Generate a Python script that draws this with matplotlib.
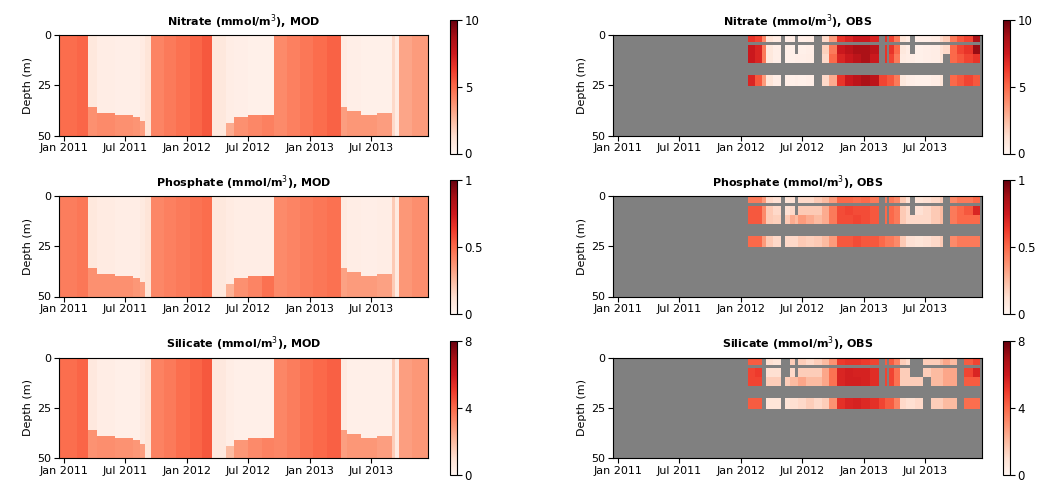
import numpy as np
import matplotlib
matplotlib.use("Agg")
import matplotlib.pyplot as plt
import matplotlib.dates as mdates

nan = np.nan

# ---- model: time segments, mixed-layer depth and surface / deep values ----
mod_start = ['2010-12-17', '2011-02-10', '2011-03-13', '2011-04-10', '2011-06-01',
             '2011-07-25', '2011-08-15', '2011-08-29', '2011-09-18', '2011-10-25',
             '2011-12-01', '2012-01-10', '2012-02-15', '2012-03-17', '2012-04-27',
             '2012-05-20', '2012-07-01', '2012-08-10', '2012-09-17', '2012-10-25',
             '2012-12-01', '2013-01-10', '2013-02-20', '2013-04-02', '2013-04-20',
             '2013-06-01', '2013-07-20', '2013-09-02', '2013-09-10', '2013-09-22',
             '2013-11-01']
mod_end = '2013-12-17'
mod_mld = [50, 50, 36, 39, 40, 41, 43, 50, 50, 50,
           50, 50, 50, 50, 44, 41, 40, 40, 50, 50,
           50, 50, 50, 36, 38, 40, 39, 50, 50, 50,
           50]

no3_surf = [4.9, 5.1, 0.8, 0.5, 0.4, 0.4, 0.6, 1.0, 4.2, 4.5,
            4.8, 5.1, 5.5, 0.8, 0.5, 0.4, 0.3, 0.3, 4.0, 4.3,
            4.6, 4.9, 5.2, 0.6, 0.4, 0.3, 0.3, 1.5, 0.6, 3.2,
            3.5]
no3_deep = [nan, nan, 3.8, 4.0, 3.8, 3.7, 3.4, nan, nan, nan,
            nan, nan, nan, nan, 3.0, 3.8, 4.1, 4.3, nan, nan,
            nan, nan, nan, 3.4, 3.6, 3.6, 3.4, nan, nan, nan,
            nan]
po4_surf = [0.44, 0.46, 0.08, 0.06, 0.05, 0.05, 0.07, 0.10, 0.41, 0.43,
            0.45, 0.47, 0.49, 0.08, 0.06, 0.05, 0.05, 0.05, 0.40, 0.42,
            0.44, 0.46, 0.48, 0.07, 0.05, 0.04, 0.05, 0.20, 0.07, 0.36,
            0.39]
po4_deep = [nan, nan, 0.38, 0.38, 0.38, 0.36, 0.34, nan, nan, nan,
            nan, nan, nan, nan, 0.28, 0.38, 0.42, 0.48, nan, nan,
            nan, nan, nan, 0.33, 0.35, 0.35, 0.33, nan, nan, nan,
            nan]
si_surf = [3.9, 4.1, 0.6, 0.4, 0.3, 0.3, 0.5, 0.8, 3.4, 3.6,
           3.9, 4.1, 4.4, 0.6, 0.4, 0.3, 0.3, 0.3, 3.3, 3.5,
           3.8, 4.0, 4.2, 0.5, 0.3, 0.3, 0.3, 1.5, 0.5, 2.7,
           2.9]
si_deep = [nan, nan, 3.0, 3.1, 3.0, 2.9, 2.7, nan, nan, nan,
           nan, nan, nan, nan, 2.0, 2.9, 3.2, 3.4, nan, nan,
           nan, nan, nan, 2.7, 2.9, 2.9, 2.7, nan, nan, nan,
           nan]

# ---- observations: sampling periods and depth rows ----
obs_edges = ['2012-01-24', '2012-02-11', '2012-03-03', '2012-03-17', '2012-04-07',
             '2012-05-01', '2012-05-10', '2012-05-25', '2012-06-09', '2012-06-18',
             '2012-07-12', '2012-08-05', '2012-08-29', '2012-09-18', '2012-10-12',
             '2012-11-05', '2012-11-29', '2012-12-23', '2013-01-19', '2013-02-15',
             '2013-03-05', '2013-03-11', '2013-03-16', '2013-03-31', '2013-04-18',
             '2013-05-06', '2013-05-18', '2013-06-02', '2013-06-26', '2013-07-20',
             '2013-08-13', '2013-08-22', '2013-09-14', '2013-10-05', '2013-10-26',
             '2013-11-19', '2013-12-10']
obs_depth = [0, 3.5, 5, 9.5, 14, 20, 25.5, 50]

no3_obs = [
    [6.5, 6, 4, 1.0, 0.6, nan, 0.4, 0.5, nan, 0.4, 0.5, nan, 1.5, 3.5, 6.5, 7, 7.5, 7.5,
     7, nan, 6.5, nan, 6, 4.5, 1.0, 0.6, nan, 0.4, 0.4, 0.6, 1.5, 2, 4.5, 5.5, 6, 8.5],
    [7.5, 7, 4.5, 0.8, 0.4, nan, 0.3, 0.3, nan, 0.3, 0.4, nan, 1.8, 4.5, 7.5, 8, 8.5, 8.5,
     8, nan, 6.5, nan, 6.5, 5, 0.8, 0.5, nan, 0.3, 0.4, 0.5, 1.2, 1.5, 5, 6, 6.5, 9],
    [7.5, 7, 4.5, 0.8, 0.4, nan, 0.3, 0.3, 0.4, 0.4, 0.5, nan, 1.5, 5, 7, 7.5, 8, 8.5,
     7.5, nan, 6.5, nan, 6, 4.5, 0.6, 0.5, 0.5, 0.3, 0.4, 0.5, 1.0, nan, 5, 5.5, 6, 6.5],
    [7, 5.5, 3.5, 1.0, 0.5, nan, 0.4, 0.3, 0.4, 0.3, 0.4, nan, 1.5, 3, 6.5, 7.5, 8, 8.5,
     8, 6, 6, 5.5, 5.5, 4.5, 0.8, 0.5, 0.4, 0.3, 0.3, 0.5, 1.0, nan, 5, 5.5, 6, 5.5],
]
po4_obs = [
    [.45, .45, .35, .15, .12, nan, .10, .12, nan, .15, .15, .20, .25, .35, .50, .50, .48, .50,
     .45, nan, .45, nan, .45, .40, .20, .12, nan, .10, .12, .15, .20, nan, .40, .45, .45, .50],
    [.55, .55, .40, .20, .15, nan, .12, .15, nan, .20, .20, .20, .30, .45, .58, .60, .58, .58,
     .55, nan, .50, nan, .50, .45, .20, .15, nan, .12, .15, .20, .25, nan, .45, .50, .55, .70],
    [.55, .55, .40, .20, .18, nan, .20, .30, .25, .35, .30, .25, .30, .45, .58, .58, .60, .58,
     .55, nan, .50, nan, .50, .45, .20, .15, .15, .15, .15, .20, .25, nan, .45, .50, .50, .50],
    [.50, .50, .35, .20, .15, nan, .15, .15, .15, .20, .18, .20, .25, .35, .55, .55, .58, .55,
     .55, .50, .45, .45, .45, .40, .20, .12, .12, .10, .12, .15, .20, nan, .40, .45, .45, .45],
]
si_obs = [
    [4.3, 4.3, nan, 1.0, 0.8, nan, nan, 1.5, nan, 1.5, 1.2, 1.5, 2.0, 3.0, 5.0, 5.2, 5.2, 5.0,
     4.8, nan, 4.3, nan, 4.3, 3.4, 1.5, 1.2, nan, nan, 1.5, 1.5, 2.0, 2.5, 2.0, nan, 4.3, 4.8],
    [4.8, 5.0, nan, 1.0, 1.0, nan, nan, 1.2, nan, 1.5, 1.5, 1.5, 2.5, 3.8, 5.6, 5.8, 5.7, 5.7,
     5.4, nan, 4.8, nan, 4.8, 3.8, 1.5, 1.5, nan, nan, 1.5, 2.0, 2.0, 2.5, 2.5, nan, 4.8, 5.6],
    [4.8, 4.8, nan, 1.5, 1.5, nan, 1.5, 2.0, 2.0, 2.5, 2.0, 2.0, 2.5, 3.8, 5.6, 5.8, 5.8, 5.7,
     5.4, nan, 4.8, nan, 4.8, 3.8, 1.5, 1.5, 1.5, 1.5, nan, 2.0, 2.0, 2.5, 2.5, nan, 4.3, 4.3],
    [4.3, 4.3, nan, 0.8, 0.8, nan, 0.8, 1.0, 1.0, 1.2, 1.5, 1.2, 1.5, 3.0, 5.3, 5.6, 5.7, 5.5,
     5.3, 4.8, 4.3, 4.3, 4.3, 3.4, 1.2, 1.0, 1.0, 1.2, nan, 1.5, 1.5, 2.0, 2.0, nan, 3.9, 3.9],
]
# thin surface silicate record before 2012
si_surf_edges = ['2010-12-17', '2011-02-24', '2011-03-05', '2011-04-15', '2011-05-15',
                 '2011-09-21', '2011-11-10', '2012-01-24']
si_surf_obs = [0.8, nan, 0.3, 0.5, 0.6, 6.0, 1.0]
si_surf_depth = [0, 0.9]

titles = ['Nitrate', 'Phosphate', 'Silicate']
vmax = [10, 1, 8]
cb_ticks = [[0, 5, 10], [0, 0.5, 1], [0, 4, 8]]
cb_labels = [['0', '5', '10'], ['0', '0.5', '1'], ['0', '4', '8']]
xlim = ['2010-12-18', '2013-12-17']


def dnum(lst):
    return mdates.date2num(np.array(lst, dtype='datetime64[D]'))


z_edges = np.arange(0, 50.5, 0.5)
z_mid = 0.5 * (z_edges[1:] + z_edges[:-1])
mod_t = dnum(mod_start + [mod_end])


def model_grid(surf, deep):
    surf = np.array(surf)
    deep = np.array(deep)
    mld = np.array(mod_mld)
    return np.where(z_mid[:, None] < mld[None, :], surf[None, :], deep[None, :])


def obs_grid(rows):
    gap = [nan] * len(rows[0])
    return np.ma.masked_invalid(np.array([rows[0], gap, rows[1], rows[2], gap, rows[3], gap]))


mod_data = [model_grid(no3_surf, no3_deep), model_grid(po4_surf, po4_deep),
            model_grid(si_surf, si_deep)]
obs_data = [obs_grid(no3_obs), obs_grid(po4_obs), obs_grid(si_obs)]

W, H = 1044, 487
fig = plt.figure(figsize=(W / 100, H / 100), dpi=100)

ax_top = [35, 196, 357.5]
ax_h = 100.5
cb_top = [19.5, 180, 341]
cb_h = 134
ax_left = [59, 613]
ax_w = 369
cb_left = [450, 1003]

xl = dnum(xlim)
for i in range(3):
    for j, kind in enumerate(['MOD', 'OBS']):
        ax = fig.add_axes([ax_left[j] / W, 1 - (ax_top[i] + ax_h) / H, ax_w / W, ax_h / H])
        if kind == 'MOD':
            m = ax.pcolormesh(mod_t, z_edges, mod_data[i], cmap='Reds', vmin=0, vmax=vmax[i],
                              shading='flat')
        else:
            ax.set_facecolor('#808080')
            m = ax.pcolormesh(dnum(obs_edges), obs_depth, obs_data[i], cmap='Reds',
                              vmin=0, vmax=vmax[i], shading='flat')
            if i == 2:
                ax.pcolormesh(dnum(si_surf_edges), si_surf_depth,
                              np.ma.masked_invalid([si_surf_obs]), cmap='Reds',
                              vmin=0, vmax=vmax[i], shading='flat')
        ax.set_xlim(xl)
        ax.set_ylim(50, 0)
        ax.set_yticks([0, 25, 50])
        ax.xaxis.set_major_locator(mdates.MonthLocator(bymonth=[1, 7]))
        ax.xaxis.set_major_formatter(mdates.DateFormatter('%b %Y'))
        ax.tick_params(labelsize=8, length=3.5, pad=2)
        ax.set_ylabel('Depth (m)', fontsize=8, labelpad=3)
        ax.set_title(titles[i] + ' (mmol/m$^3$), ' + kind, fontsize=8, fontweight='bold', pad=7)

        cax = fig.add_axes([cb_left[j] / W, 1 - (cb_top[i] + cb_h) / H, 7 / W, cb_h / H])
        cb = fig.colorbar(m, cax=cax)
        cb.set_ticks(cb_ticks[i])
        cb.set_ticklabels(cb_labels[i])
        cb.ax.tick_params(labelsize=8.5, length=3.5, pad=2)

fig.savefig('out.png', dpi=100)
